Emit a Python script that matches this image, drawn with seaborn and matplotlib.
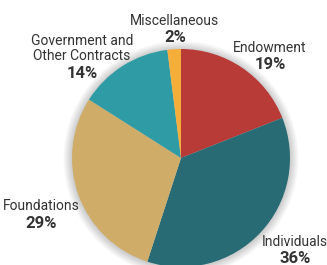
import matplotlib
matplotlib.use("Agg")
import matplotlib.pyplot as plt
import seaborn as sns
from matplotlib.patches import Circle

categories = ["Endowment", "Individuals", "Foundations",
              "Government and\nOther Contracts", "Miscellaneous"]
shares = [19, 36, 29, 14, 2]
colors = ["#B83B37", "#286B74", "#CFAC68", "#2F9BA4", "#F6AE3B"]
# label centre x, name baseline y, percent baseline y (pixels from top)
label_px = [(270, 52, 69), (295, 246, 263), (41, 210, 228),
            (82, 60, 78), (175, 25, 42)]

sns.set_theme(style="white")
plt.rcParams["font.family"] = ["Roboto", "DejaVu Sans"]

W, H = 327, 265
cx, cy, R = 181, 158, 109

fig = plt.figure(figsize=(W / 100, H / 100), dpi=100)
ax = fig.add_axes([0, 0, 1, 1])
ax.set_aspect("equal")
ax.axis("off")

# soft shadow around the pie
for i in range(10):
    ax.add_patch(Circle((0.0, -0.005), 1.0 + 0.008 * (i + 1), color="black",
                        alpha=0.018, lw=0, zorder=0))

ax.pie(shares, colors=colors, startangle=90, counterclock=False,
       radius=1.0, center=(0, 0), wedgeprops=dict(linewidth=0))
ax.set_xlim(-cx / R, (W - cx) / R)
ax.set_ylim(-(H - cy) / R, cy / R)


def to_data(px, py):
    return (px - cx) / R, (cy - py) / R


for name, val, (px, name_y, pct_y) in zip(categories, shares, label_px):
    lines = name.split("\n")
    for k, line in enumerate(lines):
        x, y = to_data(px, name_y - 15 * (len(lines) - 1 - k))
        ax.text(x, y, line, ha="center", va="baseline", fontsize=10,
                color="#333333")
    x, y = to_data(px, pct_y)
    ax.text(x, y, f"{val}%", ha="center", va="baseline", fontsize=12,
            fontweight="bold", color="#333333")

fig.savefig("out.png", dpi=100)
